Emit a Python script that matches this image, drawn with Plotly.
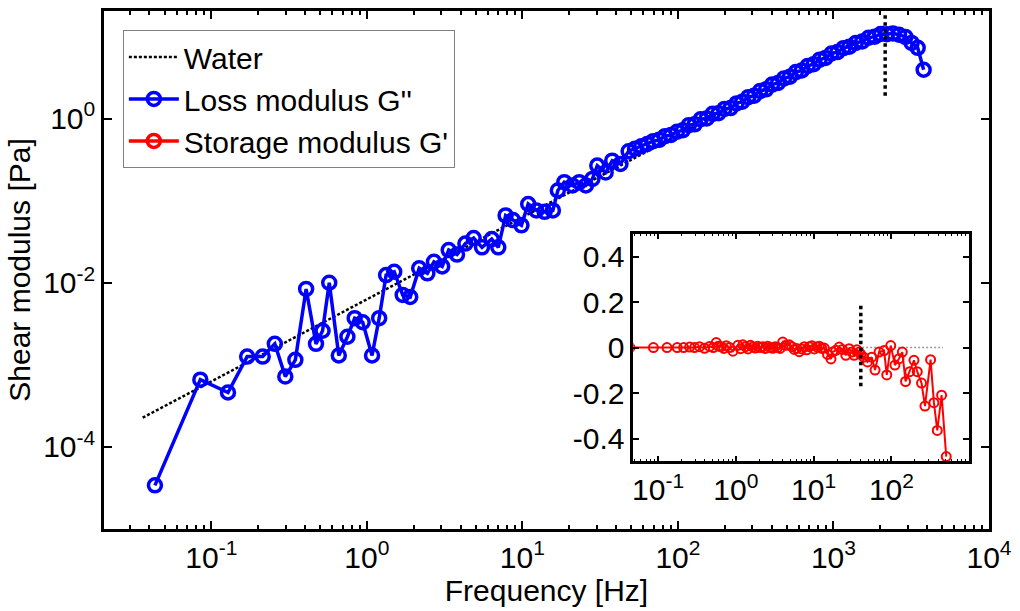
import plotly.graph_objects as go

# ---------------- data ----------------
loss_freq = [0.0434, 0.085, 0.128, 0.170, 0.214, 0.256, 0.299, 0.347, 0.407, 0.471,
             0.519, 0.573, 0.66, 0.75, 0.835, 0.94, 1.08, 1.2, 1.33, 1.5,
             1.7, 1.9, 2.17, 2.45, 2.7, 3.05, 3.36, 3.8, 4.3, 4.86,
             5.5, 6.35, 7.0, 7.8, 8.7, 9.86, 10.9, 12.3, 13.9, 15.7,
             16.9, 18.6, 21.0, 23.2, 25.6, 28.2, 30.3, 34.3, 37.8, 42.7,
             48.2, 53.0, 58.1, 63.5, 69.3, 75.7, 82.6, 90.2, 98.6, 107.6,
             117.5, 128.3, 140, 153, 167, 182.4, 199, 218, 238, 259,
             283, 309, 338, 369, 403, 440, 481, 525, 573, 625,
             683, 746, 815, 889, 971, 1060, 1159, 1265, 1390, 1530,
             1680, 1840, 2010, 2200, 2410, 2640, 2900, 3180, 3480, 3800]
loss_mod = [3.4e-5, 6.6e-4, 4.6e-4, 1.26e-3, 1.26e-3, 1.8e-3, 7.2e-4, 1.15e-3, 8.4e-3, 1.8e-3,
            2.6e-3, 1.0e-2, 1.3e-3, 2.2e-3, 3.7e-3, 3.3e-3, 1.3e-3, 3.7e-3, 1.24e-2, 1.36e-2,
            7.1e-3, 6.7e-3, 1.5e-2, 1.3e-2, 1.8e-2, 1.58e-2, 2.5e-2, 2.2e-2, 3.0e-2, 3.5e-2,
            2.7e-2, 3.4e-2, 2.7e-2, 6.6e-2, 5.8e-2, 5.0e-2, 9.1e-2, 7.6e-2, 7.3e-2, 7.6e-2,
            0.133, 0.168, 0.153, 0.168, 0.153, 0.184, 0.267, 0.22, 0.307, 0.28,
            0.40, 0.43, 0.46, 0.49, 0.53, 0.55, 0.61, 0.63, 0.69, 0.72,
            0.83, 0.85, 0.98, 1.00, 1.14, 1.16, 1.31, 1.34, 1.53, 1.60,
            1.82, 1.90, 2.17, 2.27, 2.59, 2.71, 3.08, 3.24, 3.68, 3.86,
            4.38, 4.60, 5.22, 5.48, 6.20, 6.45, 7.20, 7.50, 8.33, 8.70,
            9.65, 9.95, 10.7, 10.65, 10.9, 10.5, 9.86, 8.34, 7.26, 3.93]

water_freq = [0.0362, 2150]
water_mod = [2.27e-4, 13.5]

cutoff_freq = [2150, 2150]
cutoff_mod = [1.9, 19]

storage_freq = [0.0434, 0.087, 0.13, 0.176, 0.213, 0.254, 0.294, 0.341, 0.395, 0.459,
                0.51, 0.559, 0.60, 0.648, 0.70, 0.751, 0.83, 0.916, 1.06, 1.15,
                1.23, 1.33, 1.43, 1.54, 1.65, 1.78, 1.91, 2.06, 2.22, 2.39,
                2.57, 2.77, 2.98, 3.2, 3.45, 3.7, 4.0, 4.4, 4.87, 5.25,
                5.64, 6.05, 6.54, 7.05, 7.58, 8.15, 8.79, 9.5, 10.2, 11.0,
                11.8, 12.7, 13.7, 15.1, 16.7, 17.5, 19.3, 21.3, 23.5, 25.9,
                28.6, 30.9, 33.2, 36.0, 38.5, 40.4, 44.0, 49.2, 55.8, 61.6,
                69.3, 80.4, 87.1, 98, 111, 125, 138, 152, 172, 195,
                215, 244, 270, 319, 352, 389, 442, 507]
storage_mod = [0, 0, 0, 0, 0, 0.002, 0, 0.004, -0.003, 0.005,
               0.0, 0.022, 0.006, 0.004, -0.004, 0.008, 0.0, -0.016, 0.01, -0.005,
               0.012, 0.004, -0.006, 0.01, 0.003, -0.002, 0.006, 0.0, 0.004, -0.004,
               0.006, 0.0, -0.003, 0.004, 0.0, -0.004, 0.024, 0.01, 0.012, 0.004,
               -0.008, -0.004, -0.018, -0.006, 0.004, -0.01, 0.004, 0.008, -0.006, 0.003,
               0.006, -0.004, -0.002, -0.03, -0.05, -0.02, -0.012, 0.002, -0.008, -0.034,
               -0.005, -0.02, -0.034, -0.01, -0.02, -0.03, -0.042, -0.063, -0.042, -0.099,
               -0.02, -0.013, -0.12, 0.009, -0.077, -0.049, -0.02, -0.149, -0.106, -0.056,
               -0.106, -0.156, -0.257, -0.053, -0.242, -0.364, -0.209, -0.479]

inset_cut_freq = [40.4, 40.4]
inset_cut_val = [-0.17, 0.19]
inset_zero_freq = [42, 460]
inset_zero_val = [0, 0]

main_xtick_vals = [0.1, 1, 10, 100, 1000, 10000]
main_xtick_text = ["10<sup>-1</sup>", "10<sup>0</sup>", "10<sup>1</sup>",
                   "10<sup>2</sup>", "10<sup>3</sup>", "10<sup>4</sup>"]
main_ytick_vals = [1e-4, 1e-2, 1]
main_ytick_text = ["10<sup>-4</sup>", "10<sup>-2</sup>", "10<sup>0</sup>"]
inset_xtick_vals = [0.1, 1, 10, 100]
inset_xtick_text = ["10<sup>-1</sup>", "10<sup>0</sup>", "10<sup>1</sup>", "10<sup>2</sup>"]
inset_ytick_vals = [-0.4, -0.2, 0, 0.2, 0.4]
inset_ytick_text = ["-0.4", "-0.2", "0", "0.2", "0.4"]

minor_main = [k * 10.0 ** e for e in range(-2, 4) for k in range(2, 10)]
minor_inset = [k * 10.0 ** e for e in range(-2, 3) for k in range(2, 10)]

FONT = "Liberation Sans, Arial, sans-serif"
FS = 30
BLUE = "#0000FF"
RED = "#FF0000"

fig = go.Figure()

fig.add_trace(go.Scatter(x=water_freq, y=water_mod, mode="lines", name="Water",
                         line=dict(color="black", width=2.5, dash="3px,2px")))
fig.add_trace(go.Scatter(x=loss_freq, y=loss_mod, mode="lines+markers",
                         name="Loss modulus G''",
                         line=dict(color=BLUE, width=3.5),
                         marker=dict(symbol="circle-open", size=13, color=BLUE,
                                     line=dict(width=3.5, color=BLUE))))
fig.add_trace(go.Scatter(x=cutoff_freq, y=cutoff_mod, mode="lines", showlegend=False,
                         line=dict(color="black", width=3.5, dash="dot")))
# legend-only entry for storage modulus
fig.add_trace(go.Scatter(x=[None], y=[None], mode="lines+markers",
                         name="Storage modulus G'",
                         line=dict(color=RED, width=3.5),
                         marker=dict(symbol="circle-open", size=13, color=RED,
                                     line=dict(width=3.5, color=RED))))

# inset traces
fig.add_trace(go.Scatter(x=inset_zero_freq, y=inset_zero_val, mode="lines", showlegend=False,
                         xaxis="x2", yaxis="y2",
                         line=dict(color="#999999", width=1.5, dash="2px,2px")))
fig.add_trace(go.Scatter(x=storage_freq, y=storage_mod, mode="lines+markers", showlegend=False,
                         xaxis="x2", yaxis="y2",
                         line=dict(color=RED, width=2),
                         marker=dict(symbol="circle-open", size=9, color=RED,
                                     line=dict(width=2, color=RED))))
fig.add_trace(go.Scatter(x=inset_cut_freq, y=inset_cut_val, mode="lines", showlegend=False,
                         xaxis="x2", yaxis="y2",
                         line=dict(color="black", width=3.5, dash="dot")))

axis_common = dict(showgrid=False, zeroline=False, showline=True, linecolor="black",
                   linewidth=2.5, mirror="allticks", ticks="inside", tickcolor="black",
                   tickwidth=1.5, tickfont=dict(family=FONT, size=FS, color="black"))

fig.update_layout(
    width=1020, height=611,
    margin=dict(l=104, r=25, t=8, b=82),
    paper_bgcolor="white", plot_bgcolor="white",
    font=dict(family=FONT, size=FS, color="black"),
    showlegend=True,
    legend=dict(x=0.0213, y=0.9635, xanchor="left", yanchor="top",
                bgcolor="white", bordercolor="#808080", borderwidth=1,
                font=dict(family=FONT, size=FS, color="black"),
                itemwidth=50, tracegroupgap=0),
    xaxis=dict(type="log", range=[-1.69, 4.0], tickvals=main_xtick_vals,
               ticktext=main_xtick_text, ticklen=8,
               minor=dict(tickvals=minor_main, ticks="inside", ticklen=4,
                          tickwidth=1.5, tickcolor="black", showgrid=False),
               title=dict(text="Frequency [Hz]", font=dict(family=FONT, size=FS),
                          standoff=4),
               **axis_common),
    yaxis=dict(type="log", range=[-5.0, 1.31], tickvals=main_ytick_vals,
               ticktext=main_ytick_text, ticklen=8,
               title=dict(text="Shear modulus [Pa]", font=dict(family=FONT, size=FS),
                          standoff=4),
               **axis_common),
    xaxis2=dict(type="log", range=[-1.32, 3.0], domain=[0.598, 0.9776], anchor="y2",
                tickvals=inset_xtick_vals, ticktext=inset_xtick_text, ticklen=6,
                minor=dict(tickvals=minor_inset, ticks="inside", ticklen=3,
                           tickwidth=1.2, tickcolor="black", showgrid=False),
                **axis_common),
    yaxis2=dict(range=[-0.5, 0.5], domain=[0.1305, 0.570], anchor="x2",
                tickvals=inset_ytick_vals, ticktext=inset_ytick_text, ticklen=6,
                **axis_common),
)

fig.write_html("out.html")
